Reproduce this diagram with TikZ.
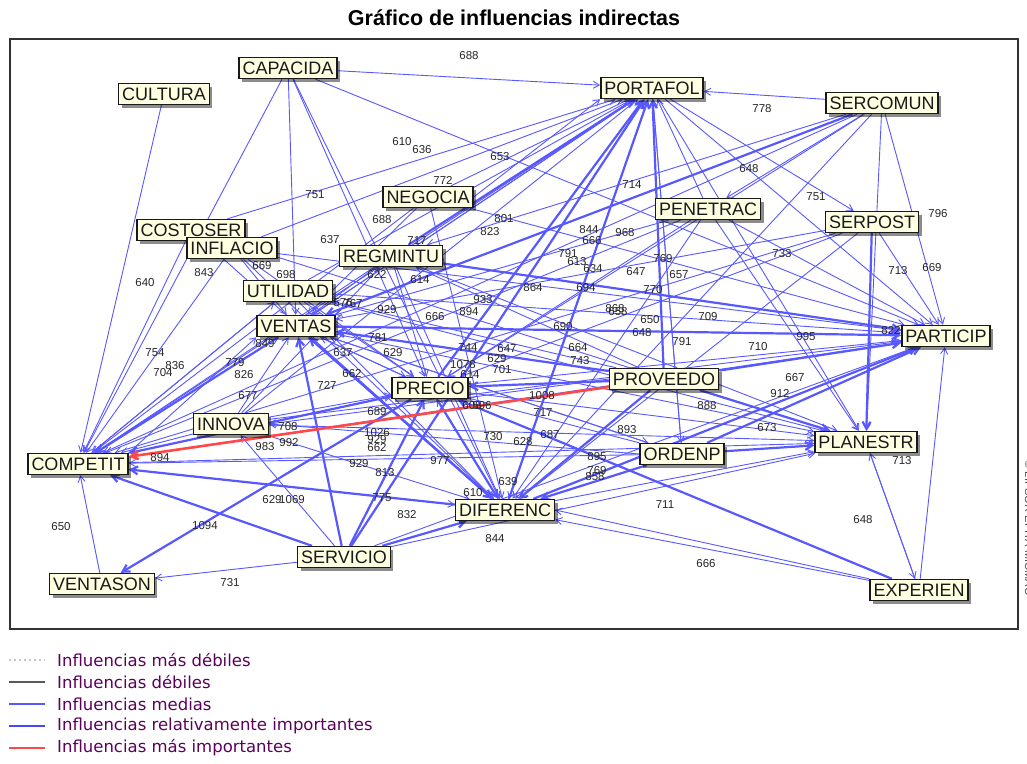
\documentclass[tikz,border=0pt]{standalone}
\usepackage{fontspec}
\setmainfont{Liberation Sans}
\newfontfamily\legfont{DejaVu Sans}
\usetikzlibrary{arrows.meta,shadows,backgrounds}
\definecolor{edgeblue}{RGB}{88,88,255}
\definecolor{edgered}{RGB}{255,72,72}
\definecolor{boxfill}{RGB}{255,255,226}
\definecolor{legtext}{RGB}{92,0,92}
\begin{document}
\begin{tikzpicture}[x=1pt,y=-1pt,
  var/.style={draw=black!90, line width=1.4pt, fill=boxfill,
    font=\fontsize{18}{20}\selectfont, text=black!90,
    inner xsep=3.5pt, inner ysep=4pt, text height=13pt, text depth=0pt,
    drop shadow={shadow xshift=3pt,shadow yshift=-3pt,opacity=0.45,fill=black}},
  val/.style={font=\fontsize{11.5}{12}\selectfont, text=black!85, inner sep=0pt},
  edgeM/.style={draw=edgeblue, line width=0.9pt, -{Straight Barb[length=6pt,width=7pt]}},
  edgeI/.style={draw=edgeblue, line width=2.2pt, -{Straight Barb[length=7pt,width=8pt]}},
  edgeR/.style={draw=edgered, line width=2.6pt, -{Straight Barb[length=7pt,width=8pt]}},
  legline/.style={line width=1.2pt},
  legitem/.style={anchor=west, inner sep=0pt, font=\legfont\fontsize{16.5}{18}\selectfont, text=legtext},
]
\useasboundingbox (0,0) rectangle (1027,763);

% title
\node[font=\bfseries\fontsize{21.5}{24}\selectfont] (title) at (514,18) {Gráfico de influencias indirectas};

% variables
\node[var] (CAP) at (288,68)  {CAPACIDA};
\node[var] (CUL) at (164,94)  {CULTURA};
\node[var] (POR) at (652,88)  {PORTAFOL};
\node[var] (SCM) at (882,103) {SERCOMUN};
\node[var] (NEG) at (428,197) {NEGOCIA};
\node[var] (COS) at (191,230) {COSTOSER};
\node[var] (INF) at (232,248) {INFLACIO};
\node[var] (PEN) at (708,209) {PENETRAC};
\node[var] (SPO) at (872,222) {SERPOST};
\node[var] (REG) at (391,256) {REGMINTU};
\node[var] (UTI) at (288,291) {UTILIDAD};
\node[var] (VEN) at (296,326) {VENTAS};
\node[var] (PAR) at (946,336) {PARTICIP};
\node[var] (PRE) at (430,388) {PRECIO};
\node[var] (PRO) at (664,379) {PROVEEDO};
\node[var] (INN) at (231,424) {INNOVA};
\node[var] (COM) at (78,464)  {COMPETIT};
\node[var] (PLA) at (866,442) {PLANESTR};
\node[var] (ORD) at (682,454) {ORDENP};
\node[var] (DIF) at (505,510) {DIFERENC};
\node[var] (SER) at (344,557) {SERVICIO};
\node[var] (VSO) at (102,584) {VENTASON};
\node[var] (EXP) at (919,590) {EXPERIEN};

\begin{pgfonlayer}{background}
% plotting frame
\draw[line width=1.3pt, black!80] (10,39) rectangle (1018,629);

% medium influences
\draw[edgeM] (CAP) -- (POR);
\draw[edgeM] (SCM) -- (POR);
\draw[edgeM] (CUL) -- (COM);
\draw[edgeM] (VSO) -- (COM);
\draw[edgeM] (SER) -- (VSO);
\draw[edgeM] (CAP) -- (VEN);
\draw[edgeM] (CAP) -- (COM);
\draw[edgeM] (CAP) -- (PRE);
\draw[edgeM] (CAP) -- (DIF);
\draw[edgeM] (CAP) -- (PAR);
\draw[edgeM] (COS) -- (POR);
\draw[edgeM] (INF) -- (POR);
\draw[edgeM] (NEG) -- (POR);
\draw[edgeM] (NEG.east) -- (POR.south west);
\draw[edgeM] (NEG) -- (DIF);
\draw[edgeM] (NEG) -- (COM);
\draw[edgeM] (NEG) -- (VEN);
\draw[edgeM] (NEG) -- (PAR);
\draw[edgeM] (INF) -- (COM);
\draw[edgeM] (COS) -- (COM);
\draw[edgeM] (INF) -- (VEN);
\draw[edgeM] (INF) -- (PRE);
\draw[edgeM] (INF) -- (PAR);
\draw[edgeM] (INF) -- (DIF);
\draw[edgeM] (COS) -- (DIF);
\draw[edgeM] (COS) -- (PLA);
\draw[edgeM] (UTI) -- (POR);
\draw[edgeM] (UTI) -- (PAR);
\draw[edgeM] (UTI) -- (COM);
\draw[edgeM] (UTI) -- (DIF);
\draw[edgeM] (UTI) -- (PRE);
\draw[edgeM] (UTI) -- (PLA);
\draw[edgeM] (VEN) -- (POR);
\draw[edgeM] (VEN) -- (PLA);
\draw[edgeM] (VEN) -- (PRE);
\draw[edgeM] (VEN) -- (ORD);
\draw[edgeM] (REG) -- (PLA);
\draw[edgeM] (REG) -- (COM);
\draw[edgeM] (REG) -- (VEN);
\draw[edgeM] (REG) -- (DIF);
\draw[edgeM] (REG) -- (PRE);
\draw[edgeM] (PEN) -- (POR);
\draw[edgeM] (PEN) -- (PAR);
\draw[edgeM] (PEN) -- (PLA);
\draw[edgeM] (PEN) -- (PRE);
\draw[edgeM] (PEN) -- (VEN);
\draw[edgeM] (PEN) -- (COM);
\draw[edgeM] (PEN) -- (DIF);
\draw[edgeM] (SCM) -- (PRE);
\draw[edgeM] (SCM) -- (PAR);
\draw[edgeM] (SCM) -- (PLA);
\draw[edgeM] (SCM) -- (DIF);
\draw[edgeM] (SCM) -- (COM);
\draw[edgeM] (SCM) -- (REG);
\draw[edgeM] (SCM) -- (PEN);
\draw[edgeM] (SPO) -- (PAR);
\draw[edgeM] (SPO) -- (PRE);
\draw[edgeM] (SPO) -- (VEN);
\draw[edgeM] (SPO) -- (COM);
\draw[edgeM] (SPO) -- (DIF);
\draw[edgeM] (PRE) -- (PAR);
\draw[edgeM] (PRE) -- (PLA);
\draw[edgeM] (PRE) -- (VEN);
\draw[edgeM] (PRO) -- (REG);
\draw[edgeM] (PRO) -- (UTI);
\draw[edgeM] (PRO.west) -- (INN.east);
\draw[edgeM] (ORD) -- (COM);
\draw[edgeM] (ORD) -- (POR);
\draw[edgeM] (ORD) -- (VEN);
\draw[edgeM] (ORD) -- (PRE);
\draw[edgeM] (ORD.west) -- (INN.east);
\draw[edgeM] (DIF) -- (PLA);
\draw[edgeM] (DIF) -- (PRE);
\draw[edgeM] (SER) -- (PAR);
\draw[edgeM] (SER) -- (PLA);
\draw[edgeM] (SER) -- (INN);
\draw[edgeM] (INN) -- (COM);
\draw[edgeM] (INN) -- (POR);
\draw[edgeM] (INN) -- (PAR);
\draw[edgeM] (INN) -- (PLA);
\draw[edgeM] (INN) -- (VEN);
\draw[edgeM] (INN) -- (DIF);
\draw[edgeM] (INN) -- (PRE);
\draw[edgeM] (INN) -- (REG);
\draw[edgeM] (COM) -- (VEN);
\draw[edgeM] (COM.north east) -- (VEN.south west);
\draw[edgeM] (COM) -- (UTI);
\draw[edgeM] (COM) -- (POR);
\draw[edgeM] (COM) -- (PAR);
\draw[edgeM] (COM) -- (PLA);
\draw[edgeM] (COM) -- (PRE);
\draw[edgeM] (COM) -- (DIF);
\draw[edgeM] (EXP) -- (DIF);
\draw[edgeM] (EXP.north west) -- (DIF.east);
\draw[edgeM] (EXP) -- (PLA);
\draw[edgeM] (EXP) -- (PAR);
\draw[edgeM] (PLA) -- (EXP);
\draw[edgeM] (POR) -- (PLA);
\draw[edgeM] (POR) -- (PAR);
\draw[edgeM] (POR) -- (SPO);
\draw[edgeM] (POR) -- (ORD);
\draw[edgeM] (POR) -- (DIF);
\draw[edgeM] (POR) -- (VEN);

% relatively important influences
\draw[edgeI] (REG) -- (POR);
\draw[edgeI] (REG) -- (PAR);
\draw[edgeI] (VEN) -- (PAR);
\draw[edgeI] (VEN) -- (COM);
\draw[edgeI] (VEN) -- (DIF);
\draw[edgeI] (SCM) -- (VEN);
\draw[edgeI] (SPO) -- (PLA);
\draw[edgeI] (PRE) -- (POR);
\draw[edgeI] (PRE) -- (COM);
\draw[edgeI] (PRE) -- (VSO);
\draw[edgeI] (PRE) -- (DIF);
\draw[edgeI] (PRO) -- (POR);
\draw[edgeI] (PRO) -- (PAR);
\draw[edgeI] (PRO) -- (PLA);
\draw[edgeI] (PRO) -- (DIF);
\draw[edgeI] (PRO) -- (PRE);
\draw[edgeI] (PRO) -- (VEN);
\draw[edgeI] (ORD) -- (PAR);
\draw[edgeI] (ORD) -- (PLA);
\draw[edgeI] (ORD) -- (DIF);
\draw[edgeI] (DIF) -- (POR);
\draw[edgeI] (DIF) -- (PAR);
\draw[edgeI] (DIF) -- (COM);
\draw[edgeI] (DIF) -- (VEN);
\draw[edgeI] (SER) -- (POR);
\draw[edgeI] (SER) -- (COM);
\draw[edgeI] (SER) -- (DIF);
\draw[edgeI] (SER) -- (VEN);
\draw[edgeI] (SER) -- (PRE);
\draw[edgeI] (EXP) -- (PRE);

% most important influence
\draw[edgeR] (PRO) -- (COM);

% influence values
\foreach \v/\x/\y in {
  688/469/56, 610/402/142, 636/422/150, 653/500/157, 772/443/180, 714/632/185,
  688/382/220, 801/504/219, 823/490/232, 844/589/230, 666/592/241, 968/625/233,
  717/417/241, 637/330/240, 791/568/254, 613/577/262, 634/593/269, 769/663/259,
  647/636/272, 657/679/275, 778/762/109, 648/749/169, 751/816/197, 796/938/214,
  733/782/254, 713/898/271, 669/932/268, 751/315/195, 843/204/273, 669/262/266,
  698/286/275, 640/145/283, 754/155/353, 836/175/366, 704/163/373, 576/343/303,
  767/353/304, 849/265/344, 779/235/363, 826/244/375, 677/248/396, 727/327/385,
  708/288/427, 983/265/447, 992/289/443, 894/160/458, 622/377/275, 614/420/280,
  929/387/310, 666/435/317, 781/378/338, 629/393/353, 637/343/353, 662/352/374,
  689/377/412, 1026/377/433, 929/377/440, 662/377/448, 864/533/288, 694/586/288,
  770/653/290, 933/483/300, 894/469/312, 868/615/309, 658/618/312, 650/650/320,
  648/642/333, 690/563/327, 744/468/348, 647/507/349, 1078/463/365, 629/497/359,
  701/502/370, 614/470/375, 664/578/348, 743/580/361, 1008/542/396, 717/543/413,
  608/472/406, 596/482/406, 730/493/437, 628/523/442, 687/550/435, 893/627/430,
  977/440/461, 895/597/457, 709/708/317, 791/682/342, 995/806/337, 710/758/347,
  822/891/331, 667/795/378, 912/780/394, 888/707/406, 673/767/428, 713/902/461,
  929/359/464, 813/385/473, 775/382/498, 832/407/515, 610/473/493, 639/508/482,
  844/495/539, 769/597/471, 858/595/477, 711/665/505, 629/272/500, 1069/292/500,
  1094/205/526, 650/61/527, 731/230/583, 648/863/520, 666/706/564}
  \node[val] at (\x,\y) {\v};
\end{pgfonlayer}

% copyright line at the right border
\node[rotate=-90, font=\fontsize{11}{12}\selectfont, text=black!70, inner sep=0pt] (copy) at (1029,528) {© LIPSOR-EPITA-MICMAC};

% legend
\draw[legline, gray!45, dash pattern=on 2pt off 3pt] (9,660) -- (45,660);
\node[legitem] (l1) at (57,660) {Influencias más débiles};
\draw[legline, black!65] (9,682) -- (45,682);
\node[legitem] (l2) at (57,682) {Influencias débiles};
\draw[legline, edgeblue] (9,704) -- (45,704);
\node[legitem] (l3) at (57,704) {Influencias medias};
\draw[line width=2.4pt, edgeblue!80!blue] (9,726) -- (45,726);
\node[legitem] (l4) at (57,726) {Influencias relativamente importantes};
\draw[line width=2.4pt, edgered] (9,748) -- (45,748);
\node[legitem] (l5) at (57,748) {Influencias más importantes};
\end{tikzpicture}
\end{document}
